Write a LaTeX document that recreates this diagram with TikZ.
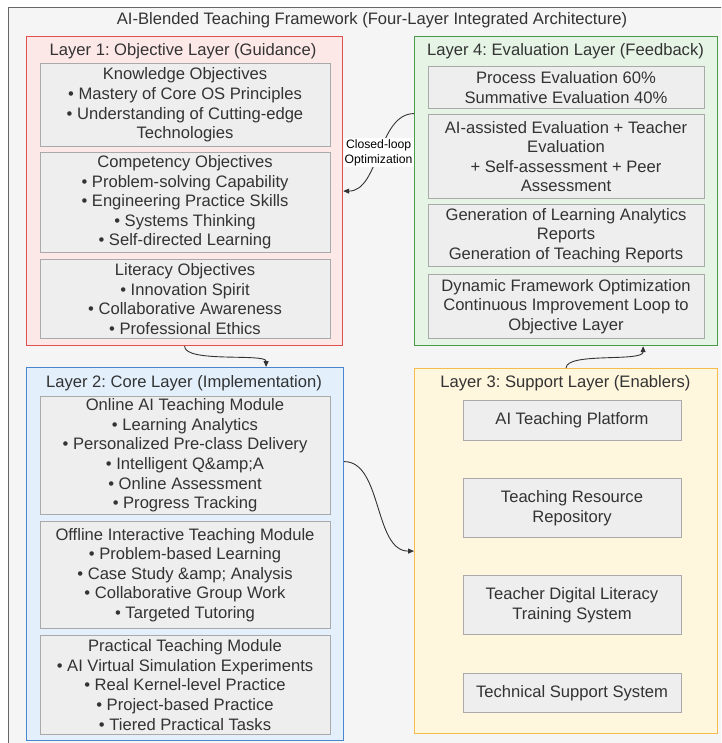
\documentclass[tikz,border=0pt]{standalone}
\usepackage{fontspec}
\setmainfont{Liberation Sans}
\frenchspacing
\usetikzlibrary{arrows.meta}
\definecolor{txt}{HTML}{333333}
\definecolor{bgfill}{HTML}{F5F5F5}
\definecolor{bgline}{HTML}{666666}
\definecolor{redfill}{HTML}{FDE8E8}
\definecolor{redline}{HTML}{E05050}
\definecolor{greenfill}{HTML}{E6F4E6}
\definecolor{greenline}{HTML}{4A9A4A}
\definecolor{bluefill}{HTML}{E3F0FC}
\definecolor{blueline}{HTML}{4A86D0}
\definecolor{yellowfill}{HTML}{FFF6DE}
\definecolor{yellowline}{HTML}{F6BC4C}
\definecolor{boxfill}{HTML}{EEEEEE}
\definecolor{boxline}{HTML}{AAAAAA}
\tikzset{
  layer/.style={draw=#1line, fill=#1fill, line width=1.2pt, inner sep=0pt},
  layertitle/.style={text=txt, font=\fontsize{16.6}{19.6}\selectfont, inner sep=0pt},
  inbox/.style={draw=boxline, fill=boxfill, line width=1pt, align=center, text=txt,
    font=\fontsize{16.6}{19.6}\selectfont, inner sep=0pt},
  conn/.style={draw=txt, line width=0.9pt, -{Triangle[length=6pt,width=5pt]}},
  looplabel/.style={fill=white, text=black, align=center, inner sep=1pt,
    font=\fontsize{12.2}{15}\selectfont}
}
\begin{document}
\begin{tikzpicture}[x=1pt, y=-1pt]
\useasboundingbox (0,0) rectangle (721,743);
\clip (0,0) rectangle (721,743);
% outer frame
\node[draw=bgline, fill=bgfill, line width=1.2pt, minimum width=730pt, minimum height=760pt, anchor=north west] (frame) at (8,7) {};
\node[layertitle] (title) at (372,20) {AI-Blended Teaching Framework (Four-Layer Integrated Architecture)};

% Layer 1
\node[layer=red, minimum width=316pt, minimum height=309pt, anchor=north west] (L1) at (26,36) {};
\node[layertitle] (L1t) at (183,51) {Layer 1: Objective Layer (Guidance)};
\node[inbox, minimum width=290pt, minimum height=83pt] (k) at (185,105)
  {Knowledge Objectives\\• Mastery of Core OS Principles\\• Understanding of Cutting-edge\\Technologies};
\node[inbox, minimum width=290pt, minimum height=100pt] (c) at (185,202.5)
  {Competency Objectives\\• Problem-solving Capability\\• Engineering Practice Skills\\• Systems Thinking\\• Self-directed Learning};
\node[inbox, minimum width=290pt, minimum height=79pt] (l) at (185,299)
  {Literacy Objectives\\• Innovation Spirit\\• Collaborative Awareness\\• Professional Ethics};

% Layer 4
\node[layer=green, minimum width=303pt, minimum height=309pt, anchor=north west] (L4) at (414,36) {};
\node[layertitle] (L4t) at (565.5,51) {Layer 4: Evaluation Layer (Feedback)};
\node[inbox, minimum width=276pt, minimum height=42pt] (e1) at (566,87.5)
  {Process Evaluation 60\%\\Summative Evaluation 40\%};
\node[inbox, minimum width=276pt, minimum height=84pt] (e2) at (566,156.5)
  {AI-assisted Evaluation + Teacher\\Evaluation\\+ Self-assessment + Peer\\Assessment};
\node[inbox, minimum width=276pt, minimum height=62pt] (e3) at (566,235.5)
  {Generation of Learning Analytics\\Reports\\Generation of Teaching Reports};
\node[inbox, minimum width=276pt, minimum height=64pt] (e4) at (566,306.5)
  {Dynamic Framework Optimization\\Continuous Improvement Loop to\\Objective Layer};

% Layer 2
\node[layer=blue, minimum width=317pt, minimum height=373pt, anchor=north west] (L2) at (26,367) {};
\node[layertitle] (L2t) at (184,383) {Layer 2: Core Layer (Implementation)};
\node[inbox, minimum width=290pt, minimum height=118pt] (m1) at (185,455.5)
  {Online AI Teaching Module\\• Learning Analytics\\• Personalized Pre-class Delivery\\• Intelligent Q\&amp;A\\• Online Assessment\\• Progress Tracking};
\node[inbox, minimum width=290pt, minimum height=107pt] (m2) at (185,575)
  {Offline Interactive Teaching Module\\• Problem-based Learning\\• Case Study \&amp; Analysis\\• Collaborative Group Work\\• Targeted Tutoring};
\node[inbox, minimum width=290pt, minimum height=99pt] (m3) at (185,685)
  {Practical Teaching Module\\• AI Virtual Simulation Experiments\\• Real Kernel-level Practice\\• Project-based Practice\\• Tiered Practical Tasks};

% Layer 3
\node[layer=yellow, minimum width=303pt, minimum height=365pt, anchor=north west] (L3) at (414,368) {};
\node[layertitle] (L3t) at (565.5,383) {Layer 3: Support Layer (Enablers)};
\node[inbox, minimum width=218pt, minimum height=40pt] (s1) at (572,420.5) {AI Teaching Platform};
\node[inbox, minimum width=218pt, minimum height=59pt] (s2) at (572,508) {Teaching Resource\\Repository};
\node[inbox, minimum width=218pt, minimum height=59pt] (s3) at (572,605) {Teacher Digital Literacy\\Training System};
\node[inbox, minimum width=218pt, minimum height=39pt] (s4) at (572,693) {Technical Support System};

% connectors between layers
\draw[conn] (L1.south) .. controls +(0,17) and +(0,-14) .. ([xshift=81pt]L2.north);
\draw[conn] ([yshift=92.5pt]L2.east) .. controls +(38,0) and +(-40,0) .. (L3.west);
\draw[conn] (L3.north) .. controls +(0,-16) and +(0,16) .. ([xshift=77pt]L4.south);
\draw[conn] ([yshift=77.5pt]L4.west) .. controls +(-36,0) and +(36,0) .. (L1.east)
  node[looplabel, pos=0.5] (loop) {Closed-loop\\Optimization};
\end{tikzpicture}
\end{document}
